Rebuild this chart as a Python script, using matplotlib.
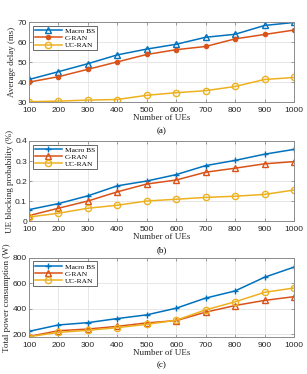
# Delay, blocking probability and power consumption vs number of UEs
import numpy as np
import matplotlib.pyplot as plt

plt.rcParams["font.family"] = "Liberation Serif"

ues = [100, 200, 300, 400, 500, 600, 700, 800, 900, 1000]

delay_macro = [41.3, 45.2, 49.2, 53.6, 56.5, 58.9, 62.4, 63.9, 68.3, 69.8]
delay_cran = [40.0, 42.7, 46.4, 50.1, 53.8, 56.2, 57.8, 61.6, 63.8, 66.0]
delay_ucran = [30.2, 30.5, 31.0, 31.3, 33.4, 34.7, 35.7, 37.8, 41.3, 42.3]

block_macro = [0.057, 0.087, 0.126, 0.176, 0.200, 0.232, 0.277, 0.303, 0.334, 0.358]
block_cran = [0.027, 0.064, 0.100, 0.146, 0.185, 0.205, 0.244, 0.264, 0.286, 0.297]
block_ucran = [0.020, 0.039, 0.064, 0.079, 0.100, 0.109, 0.118, 0.124, 0.133, 0.155]

power_macro = [224, 274, 292, 324, 353, 405, 484, 540, 647, 726]
power_cran = [184, 229, 242, 263, 290, 308, 374, 426, 466, 495]
power_ucran = [182, 216, 232, 253, 279, 311, 392, 455, 529, 563]

blue = "#0072BD"
orange = "#D95319"
yellow = "#EDB120"

fig = plt.figure(figsize=(3.07, 3.74), dpi=100)
ax_a = fig.add_axes([0.0945, 0.727, 0.863, 0.214])
ax_b = fig.add_axes([0.0945, 0.409, 0.863, 0.214])
ax_c = fig.add_axes([0.0945, 0.099, 0.863, 0.212])

lw = 1.1
ms = 4.5

ax_a.plot(ues, delay_macro, color=blue, lw=lw, marker="^", ms=ms, mfc="none", mew=1.0, label="Macro BS")
ax_a.plot(ues, delay_cran, color=orange, lw=lw, marker="o", ms=3.2, mfc=orange, mew=0.8, label="C-RAN")
ax_a.plot(ues, delay_ucran, color=yellow, lw=lw, marker="o", ms=ms, mfc="none", mew=1.0, label="UC-RAN")

ax_b.plot(ues, block_macro, color=blue, lw=lw, marker="+", ms=ms, mew=1.0, label="Macro BS")
ax_b.plot(ues, block_cran, color=orange, lw=lw, marker="^", ms=ms, mfc="none", mew=1.0, label="C-RAN")
ax_b.plot(ues, block_ucran, color=yellow, lw=lw, marker="o", ms=ms, mfc="none", mew=1.0, label="UC-RAN")

ax_c.plot(ues, power_macro, color=blue, lw=lw, marker="+", ms=ms, mew=1.0, label="Macro BS")
ax_c.plot(ues, power_cran, color=orange, lw=lw, marker="^", ms=ms, mfc="none", mew=1.0, label="C-RAN")
ax_c.plot(ues, power_ucran, color=yellow, lw=lw, marker="o", ms=ms, mfc="none", mew=1.0, label="UC-RAN")

ax_a.set_ylim(30, 70)
ax_a.set_yticks([30, 40, 50, 60, 70])
ax_b.set_ylim(0, 0.4)
ax_b.set_yticks([0, 0.1, 0.2, 0.3, 0.4])
ax_b.set_yticklabels(["0", "0.1", "0.2", "0.3", "0.4"])
ax_c.set_ylim(180, 800)
ax_c.set_yticks([200, 400, 600, 800])

ylabels = ["Average delay (ms)", "UE blocking probability (%)", "Total power consumption (W)"]
captions = ["(a)", "(b)", "(c)"]

for ax, ylab, cap in zip([ax_a, ax_b, ax_c], ylabels, captions):
    ax.set_xlim(100, 1000)
    ax.set_xticks(ues)
    ax.grid(True, color="#e3e3e3", lw=0.6)
    ax.set_axisbelow(True)
    for s in ax.spines.values():
        s.set_color("#8c8c8c")
        s.set_linewidth(0.7)
    ax.tick_params(direction="in", length=2.5, width=0.6, color="#8c8c8c",
                   top=True, right=True, labelsize=6, labelcolor="#262626")
    ax.tick_params(axis="x", pad=3.5)
    ax.tick_params(axis="y", pad=1.5)
    for t in ax.get_xticklabels() + ax.get_yticklabels():
        t.set_family("Liberation Sans")
    ax.set_ylabel(ylab, fontsize=6.5, labelpad=1, color="#262626")
    ax.set_xlabel("Number of UEs", fontsize=6.5, labelpad=0, color="#262626")
    ax.text(0.5, -0.31, cap, transform=ax.transAxes, ha="center", va="top", fontsize=6.5)
    leg = ax.legend(loc="upper left", fontsize=5.3, frameon=True, fancybox=False,
                    borderpad=0.3, handlelength=3.6, handletextpad=0.4, labelspacing=0.12,
                    bbox_to_anchor=(0.015, 0.955), borderaxespad=0.0)
    leg.get_frame().set_edgecolor("#262626")
    leg.get_frame().set_linewidth(0.6)

fig.savefig("out.png", dpi=100)
